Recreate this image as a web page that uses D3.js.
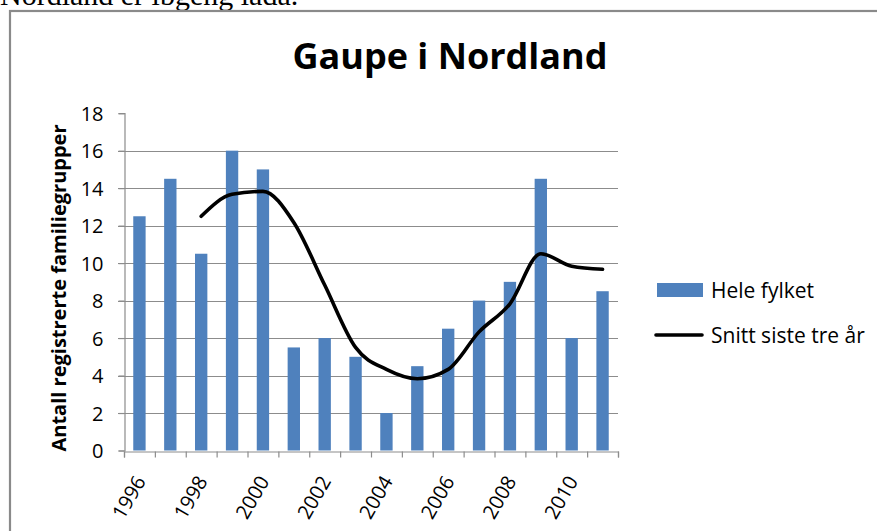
<!DOCTYPE html>
<html>
<head>
<meta charset="utf-8">
<script src="https://cdn.jsdelivr.net/npm/d3@7"></script>
<style>
  html, body { margin: 0; padding: 0; background: #fff; }
  svg { display: block; }
</style>
</head>
<body>
<svg id="chart" width="877" height="531"></svg>
<script>
// ---- data ----
const years = ["1996","1997","1998","1999","2000","2001","2002","2003","2004","2005","2006","2007","2008","2009","2010","2011"];
const heleFylket = [12.5, 14.5, 10.5, 16, 15, 5.5, 6, 5, 2, 4.5, 6.5, 8, 9, 14.5, 6, 8.5];
const snittYears = ["1998","1999","2000","2001","2002","2003","2004","2005","2006","2007","2008","2009","2010","2011"];
const snittSisteTreAar = [12.5, 13.67, 13.83, 12.17, 8.83, 5.5, 4.33, 3.83, 4.33, 6.33, 7.83, 10.5, 9.83, 9.67];
const yTicks = [0, 2, 4, 6, 8, 10, 12, 14, 16, 18];
const xLabelYears = ["1996","1998","2000","2002","2004","2006","2008","2010"];
const seriesNames = ["Hele fylket", "Snitt siste tre år"];
const chartTitle = "Gaupe i Nordland";
const yTitle = "Antall registrerte familiegrupper";
const pageText = "Nordland er ibgeng lada.";

// ---- layout ----
const svg = d3.select("#chart");
const font = "'Open Sans', 'Noto Sans', sans-serif";
const pLeft = 124, pRight = 618, pTop = 113.2, pBottom = 450.5;
const blue = "#4F81BD";
const gridColor = "#8c8c8c";

// page text (cut off at top, as in the source document)
svg.append("text").attr("x", 0).attr("y", 5)
  .attr("font-family", "'Liberation Serif', 'Times New Roman', serif")
  .attr("font-size", 30).attr("fill", "#000").text(pageText);

// chart border
svg.append("rect").attr("x", 10).attr("y", 11).attr("width", 900).attr("height", 560)
  .attr("fill", "#fff").attr("stroke", "#8a8a8a").attr("stroke-width", 2.2);

const x = d3.scaleBand().domain(years).range([pLeft, pRight]).paddingInner(0.6).paddingOuter(0.3);
const xb = d3.scaleLinear().domain([0, years.length]).range([pLeft, pRight]);
const y = d3.scaleLinear().domain([0, 18]).range([pBottom, pTop]);

// gridlines
svg.append("g").selectAll("line").data(yTicks.filter(d => d > 0 && d < 18)).join("line")
  .attr("x1", pLeft - 6).attr("x2", pRight)
  .attr("y1", d => Math.round(y(d)) + 0.5).attr("y2", d => Math.round(y(d)) + 0.5)
  .attr("stroke", gridColor).attr("stroke-width", 1.2);

// y axis
const yAxis = svg.append("g").attr("transform", `translate(${pLeft + 0.5},0)`)
  .call(d3.axisLeft(y).tickValues(yTicks).tickSize(6).tickPadding(15).tickFormat(d3.format("d")));
yAxis.select(".domain").attr("stroke", gridColor).attr("stroke-width", 1.2);
yAxis.selectAll(".tick line").attr("stroke", gridColor).attr("stroke-width", 1.2);
yAxis.selectAll(".tick text").attr("font-family", font).attr("font-size", 20).attr("fill", "#000")
  .attr("dy", "0.36em");

// bars
svg.append("g").selectAll("rect").data(years).join("rect")
  .attr("x", d => x(d)).attr("width", x.bandwidth())
  .attr("y", (d, i) => y(heleFylket[i]))
  .attr("height", (d, i) => y(0) - y(heleFylket[i]))
  .attr("fill", blue);

// x axis
const xAxis = svg.append("g").attr("transform", `translate(0,${Math.round(pBottom) + 0.5})`)
  .call(d3.axisBottom(xb).tickValues(d3.range(years.length + 1)).tickSize(6).tickFormat(""));
xAxis.select(".domain").attr("stroke", gridColor).attr("stroke-width", 1.2);
xAxis.selectAll(".tick line").attr("stroke", gridColor).attr("stroke-width", 1.2);

// x labels
svg.append("g").selectAll("text").data(xLabelYears).join("text")
  .attr("transform", d => `translate(${x(d) + x.bandwidth() / 2 + 7},481) rotate(-60)`)
  .attr("text-anchor", "end")
  .attr("font-family", font).attr("font-size", 20).attr("fill", "#000")
  .text(d => d);

// line
const line = d3.line()
  .x((d, i) => x(snittYears[i]) + x.bandwidth() / 2)
  .y(d => y(d))
  .curve(d3.curveMonotoneX);
svg.append("path").datum(snittSisteTreAar)
  .attr("d", line).attr("fill", "none").attr("stroke", "#000")
  .attr("stroke-width", 3.6).attr("stroke-linejoin", "round").attr("stroke-linecap", "round");

// title
svg.append("text").attr("x", 450).attr("y", 69).attr("text-anchor", "middle")
  .attr("font-family", font).attr("font-weight", "bold").attr("font-size", 36).attr("fill", "#000")
  .text(chartTitle);

// y title
svg.append("text").attr("transform", "translate(66,288) rotate(-90)").attr("text-anchor", "middle")
  .attr("font-family", font).attr("font-weight", "bold").attr("font-size", 20).attr("fill", "#000")
  .text(yTitle);

// legend
const lg = svg.append("g");
lg.append("rect").attr("x", 657).attr("y", 283).attr("width", 46).attr("height", 14).attr("fill", blue);
lg.append("text").attr("x", 711).attr("y", 298).attr("font-family", font).attr("font-size", 21)
  .attr("fill", "#000").text(seriesNames[0]);
lg.append("line").attr("x1", 656).attr("x2", 702).attr("y1", 335).attr("y2", 335)
  .attr("stroke", "#000").attr("stroke-width", 3.6).attr("stroke-linecap", "round");
lg.append("text").attr("x", 711).attr("y", 342.5).attr("font-family", font).attr("font-size", 21)
  .attr("fill", "#000").text(seriesNames[1]);
</script>
</body>
</html>
